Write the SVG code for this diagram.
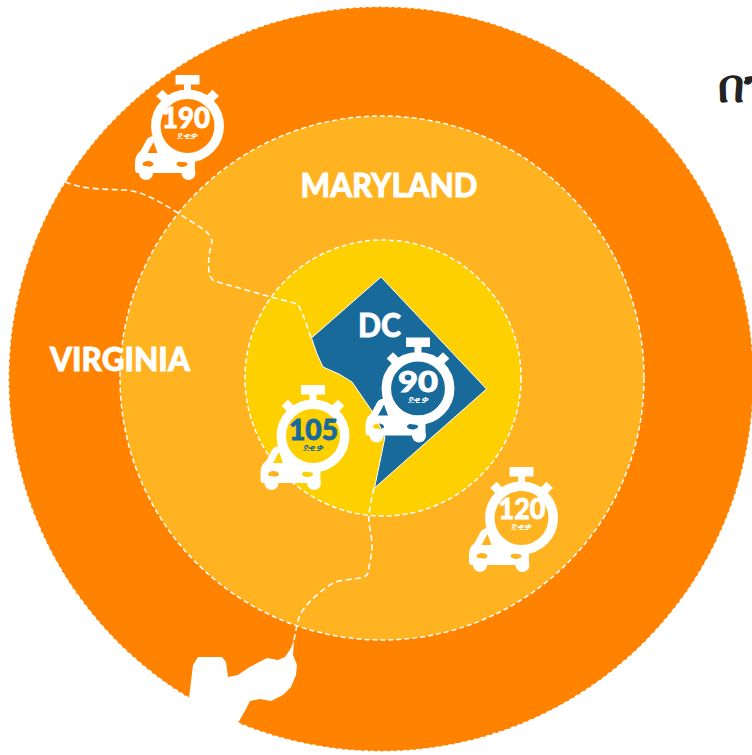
<svg xmlns="http://www.w3.org/2000/svg" width="752" height="755" viewBox="0 0 752 755">
<style>
.edge{stroke:#fff;stroke-width:1.5;stroke-dasharray:4 2.5}
.edge2{stroke:#fff;stroke-width:1.5;stroke-dasharray:5 3}
.bound{fill:none;stroke:#fff;stroke-width:1.6;stroke-dasharray:6 3.5;stroke-linejoin:round}
.lab{font-family:"Lato","Liberation Sans",sans-serif;font-weight:900;fill:#fff;stroke:#fff;stroke-width:.8}
.num{font-family:"Lato","Liberation Sans",sans-serif;font-weight:900;font-size:28px;text-anchor:middle;stroke-width:.8}
.min{font-family:"Noto Sans","DejaVu Sans",sans-serif;font-size:10px;text-anchor:middle}
</style>
<defs>
<g id="watch" fill="#fff">
<path fill-rule="evenodd" d="M-52.500 38C-52.500 32-51 28-47 25L-41 14C-39 11-37 10-33 10H-26L-15 27H4C6.500 29 7.500 33 7.500 38V43C7.500 46 6 47 5 47H-50C-52 47-52.500 45-52.500 43ZM-40 27H-30L-34 16ZM-45 38A5.500 3 0 0 0-34 38 5.500 3 0 0 0-45 38ZM-11 38A5.500 3 0 0 0 0 38 5.500 3 0 0 0-11 38Z"/>
<circle cx="-41.500" cy="47" r="7"/><circle cx="1" cy="47" r="7"/>
<circle cx="0" cy="0" r="31.700" fill="none" stroke="#fff" stroke-width="9.500"/>
<rect x="-12" y="-51" width="24" height="9.500"/><rect x="-3.500" y="-42" width="7" height="8"/>
<rect x="-4.500" y="-4.500" width="9" height="9" transform="translate(-25 -30) rotate(45)"/>
<rect x="-4.500" y="-4.500" width="9" height="9" transform="translate(25 -30) rotate(45)"/>
</g>
</defs>
<rect width="752" height="755" fill="#fff"/>
<g id="rings">
<circle id="ring-outer" cx="381" cy="379" r="372.500" fill="#ff8300" class="edge"/>
<circle id="ring-middle" cx="382" cy="378" r="262" fill="#ffb320" class="edge2"/>
<circle id="ring-inner" cx="383" cy="378" r="138" fill="#ffd000" class="edge2"/>
</g>
<path id="river" fill="#fff" d="M294 640L291 648 285 657 278 660 267 658 248 668 238 675 228 677 226 662 222 657 198 657 193 665 191 682 189 698 180 720 230 745 238 723 246 709 250 701 260 699 271 701 283 695 291 687 296 675 297 665 293 655Z"/>
<path id="dc" fill="#186a9b" stroke="#fff" stroke-width="1" d="M381 277L486.500 389 374.500 488 385 437 374 414 352 382 339 374 323 367 317 354 311.500 338Z"/>
<g id="connectors">
<path class="bound" d="M65 182C85 190 105 189 125 190 145 192 160 202 178 213L203 229C208 233 212 237 212 242 209 252 208 262 209 272 210 276 211 279 214 281L271 297 298 304 305 320 311 338"/>
<path class="bound" d="M374 488C372 497 370 505 369 515 368 525 372 535 372 545 372 555 369 565 368 573 366 580 350 578 335 582 320 590 305 605 300 615 297 622 296 630 294 640"/>
</g>
<g id="dc-label"><text class="lab" x="379.500" y="337" font-size="33" text-anchor="middle" textLength="43" lengthAdjust="spacingAndGlyphs">DC</text></g>
<g id="maryland-label"><text class="lab" x="389" y="196.500" font-size="33" text-anchor="middle" textLength="177" lengthAdjust="spacingAndGlyphs">MARYLAND</text></g>
<g id="virginia-label"><text class="lab" x="120" y="370.500" font-size="33" text-anchor="middle" textLength="140" lengthAdjust="spacingAndGlyphs">VIRGINIA</text></g>
<g id="t190"><use href="#watch" x="187.500" y="126"/><text class="num" x="186" y="128" fill="#fff" stroke="#fff" textLength="48" lengthAdjust="spacingAndGlyphs">190</text><text class="min" x="187.500" y="138.500" fill="#fff" textLength="21" lengthAdjust="spacingAndGlyphs">ደቂቃ</text></g>
<g id="t90"><use href="#watch" x="418" y="388.500"/><text class="num" x="418" y="392" fill="#fff" stroke="#fff" textLength="40" lengthAdjust="spacingAndGlyphs">90</text><text class="min" x="418" y="403" fill="#fff" textLength="21" lengthAdjust="spacingAndGlyphs">ደቂቃ</text></g>
<g id="t105"><use href="#watch" x="313" y="436"/><text class="num" x="313.500" y="440" fill="#186a9b" stroke="#186a9b" textLength="49" lengthAdjust="spacingAndGlyphs">105</text><text class="min" x="313" y="451" fill="#186a9b" textLength="21" lengthAdjust="spacingAndGlyphs">ደቂቃ</text></g>
<g id="t120"><use href="#watch" x="521.500" y="518"/><text class="num" x="522" y="519" fill="#fff" stroke="#fff" textLength="47" lengthAdjust="spacingAndGlyphs">120</text><text class="min" x="521.500" y="529.500" fill="#fff" textLength="21" lengthAdjust="spacingAndGlyphs">ደቂቃ</text></g>
<text id="title" x="718" y="102" font-family="Noto Sans,DejaVu Sans,sans-serif" font-weight="700" font-size="46" fill="#222">በገ</text>
</svg>
